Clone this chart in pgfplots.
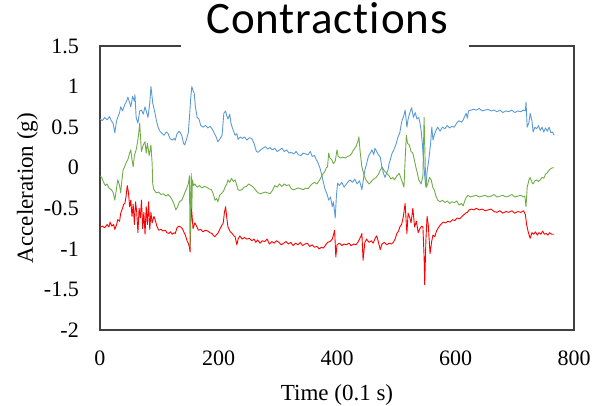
\documentclass[border=0pt]{standalone}
\usepackage{fontspec}
\setmainfont{Liberation Serif}
\newfontfamily\carlito[Ligatures=NoCommon, LetterSpace=2]{Carlito}
\usepackage{pgfplots}
\pgfplotsset{compat=1.18}
\definecolor{cblue}{RGB}{91,155,213}
\definecolor{cgreen}{RGB}{112,173,71}
\definecolor{cred}{RGB}{255,0,0}
\begin{document}
\begin{tikzpicture}
\path[use as bounding box] (-100pt,-75pt) rectangle (493pt,330pt);
\begin{axis}[
  at={(0pt,0pt)}, anchor=south west,
  scale only axis, width=474pt, height=284pt,
  xmin=0, xmax=800, ymin=-2, ymax=1.5,
  xtick={0,200,...,800},
  ytick={-2,-1.5,-1,-0.5,0,0.5,1,1.5},
  major tick length=0pt,
  axis line style={black!75, line width=1.1pt},
  /pgf/number format/assume math mode=true,
  /pgf/number format/fixed,
  ticklabel style={font=\fontsize{22}{26}\selectfont, inner sep=0pt},
  xticklabel style={anchor=base, yshift=-35pt},
  yticklabel style={anchor=east, xshift=-21pt},
  xlabel={Time (0.1 s)},
  ylabel={Acceleration (g)},
  label style={font=\fontsize{23}{27}\selectfont, inner sep=0pt},
  xlabel style={at={(axis description cs:0.5,-0.2465)}, anchor=base},
  ylabel style={at={(axis description cs:-0.1414,0.5)}, anchor=base},
  every axis plot/.append style={line width=0.9pt, line join=round},
]
\addplot[cblue, mark=none] coordinates {
(0,0.60)(4,0.58)(8,0.62)(12,0.59)(16,0.63)(19,0.58)(22,0.55)(25,0.43)(28,0.58)(30,0.62)
(33,0.68)(35,0.75)(38,0.70)(42,0.78)(45,0.82)(47,0.87)(50,0.80)(52,0.75)(55,0.88)(58,0.82)
(59,0.90)(61,0.62)(64,0.55)(67,0.70)(70,0.71)(73,0.66)(76,0.75)(78,0.70)(81,0.62)(84,0.80)
(86,1.00)(89,0.80)(92,0.70)(95,0.59)(98,0.50)(101,0.45)(104,0.43)(108,0.40)(112,0.44)(115,0.42)
(118,0.36)(122,0.34)(125,0.36)(127,0.34)(130,0.42)(134,0.45)(138,0.40)(141,0.30)(143,0.28)(146,0.35)
(149,0.43)(151,0.62)(153,0.85)(155,1.00)(157,0.95)(159,0.92)(161,0.75)(164,0.62)(167,0.60)(170,0.52)
(174,0.50)(178,0.52)(182,0.49)(186,0.51)(189,0.48)(192,0.44)(196,0.38)(199,0.32)(203,0.36)(206,0.40)
(209,0.67)(212,0.70)(214,0.64)(216,0.60)(219,0.66)(221,0.55)(223,0.50)(226,0.44)(228,0.40)(231,0.42)
(233,0.35)(237,0.38)(240,0.36)(244,0.38)(248,0.34)(252,0.37)(256,0.36)(260,0.30)(264,0.20)(267,0.19)
(271,0.22)(275,0.24)(279,0.26)(283,0.23)(287,0.25)(291,0.22)(295,0.24)(299,0.20)(303,0.22)(307,0.24)
(311,0.20)(315,0.22)(319,0.18)(323,0.19)(327,0.17)(331,0.20)(335,0.16)(339,0.15)(343,0.18)(347,0.17)
(351,0.16)(355,0.20)(358,0.14)(362,0.15)(365,0.10)(368,0.06)(371,0.00)(374,-0.08)(377,-0.18)(380,-0.27)
(383,-0.32)(386,-0.40)(389,-0.36)(392,-0.48)(394,-0.42)(396,-0.55)(397,-0.62)(399,-0.35)(401,-0.19)(404,-0.22)
(408,-0.18)(412,-0.24)(415,-0.21)(419,-0.17)(422,-0.15)(426,-0.18)(430,-0.14)(434,-0.20)(438,-0.16)(442,-0.27)
(445,-0.12)(447,-0.03)(450,0.05)(453,0.14)(456,0.18)(459,0.22)(462,0.16)(464,0.24)(467,0.20)(470,0.16)
(473,0.13)(476,0.00)(479,-0.08)(481,-0.12)(484,-0.06)(486,-0.03)(488,0.05)(490,0.10)(493,0.18)(496,0.22)
(498,0.26)(500,0.30)(503,0.38)(506,0.43)(508,0.52)(510,0.59)(512,0.62)(515,0.71)(518,0.50)(520,0.60)
(523,0.68)(526,0.74)(529,0.62)(532,0.68)(535,0.60)(538,0.62)(540,0.55)(542,0.46)(544,0.30)(546,0.10)
(548,-0.10)(550,-0.24)(552,-0.05)(555,0.10)(558,0.30)(560,0.50)(562,0.34)(564,0.40)(567,0.46)(570,0.50)
(574,0.45)(578,0.50)(582,0.48)(586,0.52)(590,0.49)(594,0.51)(598,0.50)(602,0.55)(606,0.58)(610,0.56)
(613,0.59)(616,0.64)(618,0.67)(620,0.61)(622,0.70)(626,0.71)(630,0.72)(635,0.71)(640,0.73)(645,0.70)
(650,0.71)(655,0.72)(660,0.70)(665,0.71)(670,0.69)(675,0.71)(680,0.68)(685,0.70)(690,0.69)(695,0.71)
(700,0.68)(705,0.70)(710,0.69)(715,0.71)(718,0.70)(719,0.81)(721,0.50)(724,0.56)(726,0.67)(729,0.58)
(731,0.44)(734,0.50)(737,0.48)(740,0.52)(743,0.46)(746,0.50)(749,0.44)(752,0.49)(755,0.45)(758,0.50)
(761,0.43)(764,0.44)(766,0.40)
};
\addplot[cred, mark=none] coordinates {
(0,-0.73)(4,-0.72)(8,-0.74)(12,-0.70)(15,-0.73)(17,-0.67)(20,-0.72)(23,-0.70)(25,-0.76)(28,-0.70)
(30,-0.64)(33,-0.66)(35,-0.56)(38,-0.50)(40,-0.45)(42,-0.44)(44,-0.35)(46,-0.22)(48,-0.30)(50,-0.48)
(52,-0.40)(54,-0.60)(56,-0.45)(58,-0.70)(60,-0.42)(62,-0.55)(64,-0.80)(66,-0.50)(68,-0.62)(70,-0.40)
(72,-0.75)(74,-0.55)(76,-0.82)(78,-0.48)(80,-0.70)(82,-0.42)(84,-0.76)(86,-0.55)(88,-0.68)(91,-0.60)
(93,-0.64)(96,-0.72)(99,-0.77)(103,-0.76)(106,-0.78)(110,-0.77)(113,-0.80)(116,-0.81)(119,-0.79)(122,-0.82)
(125,-0.80)(127,-0.81)(130,-0.74)(133,-0.72)(136,-0.73)(139,-0.75)(142,-0.80)(144,-0.83)(147,-0.90)(149,-0.93)
(151,-0.98)(152,-1.04)(154,-0.45)(155,-0.55)(157,-0.75)(160,-0.68)(163,-0.72)(166,-0.77)(170,-0.76)(174,-0.79)
(178,-0.77)(182,-0.78)(185,-0.80)(189,-0.81)(192,-0.84)(194,-0.85)(197,-0.82)(199,-0.81)(202,-0.76)(205,-0.72)
(208,-0.68)(210,-0.55)(212,-0.48)(214,-0.62)(216,-0.73)(220,-0.79)(223,-0.81)(226,-0.84)(228,-0.85)(231,-0.95)
(233,-0.88)(236,-0.84)(240,-0.88)(244,-0.86)(248,-0.88)(252,-0.87)(256,-0.90)(260,-0.88)(263,-0.92)(266,-0.89)
(270,-0.93)(274,-0.90)(278,-0.91)(282,-0.88)(286,-0.94)(290,-0.91)(294,-0.93)(298,-0.90)(302,-0.92)(306,-0.95)
(310,-0.93)(314,-0.91)(318,-0.94)(322,-0.92)(326,-0.96)(330,-0.93)(334,-0.95)(338,-0.92)(342,-0.96)(346,-0.94)
(350,-0.93)(354,-0.97)(358,-0.95)(362,-0.98)(366,-0.97)(370,-1.00)(374,-0.98)(377,-0.99)(380,-0.96)(384,-0.92)
(388,-0.91)(392,-0.88)(395,-0.80)(396,-0.77)(398,-1.10)(400,-0.95)(404,-0.93)(408,-0.96)(412,-0.94)(416,-0.95)
(420,-0.93)(424,-0.96)(428,-0.94)(432,-0.95)(436,-0.91)(440,-0.85)(442,-0.81)(444,-1.14)(447,-0.92)(450,-0.88)
(454,-0.92)(458,-0.90)(461,-0.93)(465,-0.86)(467,-0.84)(470,-0.92)(473,-1.01)(476,-0.94)(480,-0.92)(484,-0.95)
(488,-0.93)(492,-0.94)(495,-0.92)(498,-0.88)(501,-0.81)(504,-0.78)(506,-0.73)(509,-0.70)(512,-0.60)(515,-0.44)
(517,-0.70)(518,-0.81)(520,-0.56)(523,-0.62)(525,-0.68)(528,-0.50)(531,-0.73)(534,-0.66)(537,-0.80)(540,-0.75)
(543,-0.72)(545,-0.73)(547,-1.10)(548,-1.44)(550,-0.90)(552,-0.60)(554,-0.70)(557,-1.06)(560,-0.90)(562,-0.83)
(565,-0.85)(568,-0.78)(571,-0.74)(575,-0.70)(579,-0.67)(583,-0.68)(587,-0.66)(591,-0.67)(595,-0.64)(599,-0.65)
(603,-0.62)(607,-0.63)(611,-0.60)(614,-0.58)(617,-0.56)(620,-0.55)(623,-0.52)(627,-0.51)(631,-0.52)(635,-0.50)
(640,-0.52)(645,-0.51)(650,-0.53)(655,-0.52)(660,-0.51)(665,-0.54)(670,-0.55)(675,-0.53)(680,-0.56)(685,-0.54)
(690,-0.55)(695,-0.53)(700,-0.56)(705,-0.54)(710,-0.55)(715,-0.53)(718,-0.58)(720,-0.70)(723,-0.80)(726,-0.87)
(729,-0.80)(732,-0.82)(735,-0.79)(738,-0.83)(741,-0.80)(744,-0.82)(747,-0.78)(750,-0.82)(753,-0.81)(756,-0.83)
(759,-0.80)(762,-0.82)(766,-0.82)
};
\addplot[cgreen, mark=none] coordinates {
(0,-0.10)(3,-0.12)(6,-0.18)(9,-0.22)(12,-0.20)(15,-0.25)(19,-0.27)(22,-0.30)(25,-0.40)(28,-0.25)
(30,-0.15)(33,-0.22)(35,-0.31)(37,-0.15)(39,-0.03)(42,0.02)(44,0.06)(47,0.10)(50,0.18)(52,0.22)
(54,0.10)(56,0.01)(58,0.15)(61,0.22)(63,0.30)(65,0.40)(67,0.55)(69,0.30)(70,0.20)(73,0.28)
(76,0.32)(78,0.18)(80,0.30)(83,0.15)(86,0.28)(88,0.05)(89,-0.20)(91,-0.27)(95,-0.31)(99,-0.30)
(103,-0.33)(107,-0.32)(111,-0.35)(115,-0.33)(119,-0.36)(122,-0.40)(125,-0.45)(128,-0.52)(131,-0.48)(134,-0.42)
(138,-0.40)(141,-0.35)(143,-0.31)(146,-0.26)(149,-0.20)(151,-0.10)(152,-0.98)(154,-0.07)(155,-0.50)(156,-0.15)
(158,-0.22)(160,-0.20)(164,-0.24)(168,-0.22)(172,-0.25)(176,-0.23)(180,-0.24)(184,-0.26)(188,-0.27)(191,-0.32)
(194,-0.40)(197,-0.38)(199,-0.42)(202,-0.34)(206,-0.31)(209,-0.28)(211,-0.24)(214,-0.20)(216,-0.15)(219,-0.18)
(222,-0.13)(225,-0.17)(228,-0.15)(231,-0.22)(233,-0.27)(236,-0.28)(240,-0.27)(243,-0.24)(247,-0.23)(251,-0.20)
(255,-0.22)(259,-0.24)(263,-0.28)(267,-0.31)(271,-0.32)(275,-0.31)(279,-0.30)(283,-0.31)(287,-0.32)(291,-0.28)
(295,-0.22)(299,-0.24)(303,-0.20)(307,-0.23)(311,-0.20)(315,-0.22)(319,-0.21)(323,-0.26)(327,-0.27)(331,-0.26)
(335,-0.25)(339,-0.26)(343,-0.27)(347,-0.25)(351,-0.26)(355,-0.22)(358,-0.20)(362,-0.18)(366,-0.20)(370,-0.16)
(373,-0.12)(376,-0.08)(379,-0.05)(382,0.00)(384,0.01)(386,0.18)(388,0.12)(391,0.10)(394,0.05)(397,0.08)
(400,0.22)(402,0.14)(406,0.12)(410,0.13)(414,0.12)(418,0.14)(422,0.15)(425,0.18)(428,0.22)(432,0.26)
(435,0.32)(437,0.38)(439,0.20)(442,0.01)(446,-0.10)(449,-0.15)(452,-0.18)(454,-0.20)(458,-0.17)(462,-0.14)
(466,-0.12)(470,-0.08)(473,-0.03)(476,0.01)(480,-0.04)(484,-0.07)(488,-0.10)(491,-0.14)(494,-0.12)(497,-0.15)
(501,-0.10)(505,-0.07)(509,-0.15)(513,-0.24)(515,0.10)(517,0.40)(519,0.30)(522,0.28)(525,0.20)(528,0.18)
(531,0.08)(533,0.01)(536,-0.08)(538,-0.15)(542,-0.20)(545,-0.10)(547,0.62)(549,0.00)(551,-0.24)(553,-0.20)
(556,-0.12)(559,-0.15)(562,-0.25)(564,-0.27)(567,-0.35)(570,-0.40)(574,-0.42)(578,-0.40)(582,-0.43)(586,-0.41)
(590,-0.44)(594,-0.42)(598,-0.43)(602,-0.41)(606,-0.46)(610,-0.44)(613,-0.47)(616,-0.40)(618,-0.37)(621,-0.34)
(625,-0.36)(630,-0.35)(635,-0.34)(640,-0.36)(645,-0.35)(650,-0.34)(655,-0.36)(660,-0.35)(665,-0.33)(670,-0.36)
(675,-0.35)(680,-0.34)(685,-0.36)(690,-0.35)(695,-0.33)(700,-0.36)(705,-0.35)(710,-0.34)(715,-0.36)(717,-0.35)
(719,-0.48)(721,-0.24)(724,-0.15)(726,-0.12)(729,-0.18)(731,-0.20)(734,-0.16)(737,-0.15)(740,-0.17)(743,-0.15)
(746,-0.12)(749,-0.13)(752,-0.08)(755,-0.06)(758,-0.03)(761,-0.01)(764,0.00)(766,0.00)
};
\end{axis}
\fill[white] (81pt,278pt) rectangle (369pt,292pt);
\node[anchor=base, inner sep=0pt, font=\carlito\fontsize{45}{49}\selectfont] at (227pt,296pt) {Contractions};
\end{tikzpicture}
\end{document}
